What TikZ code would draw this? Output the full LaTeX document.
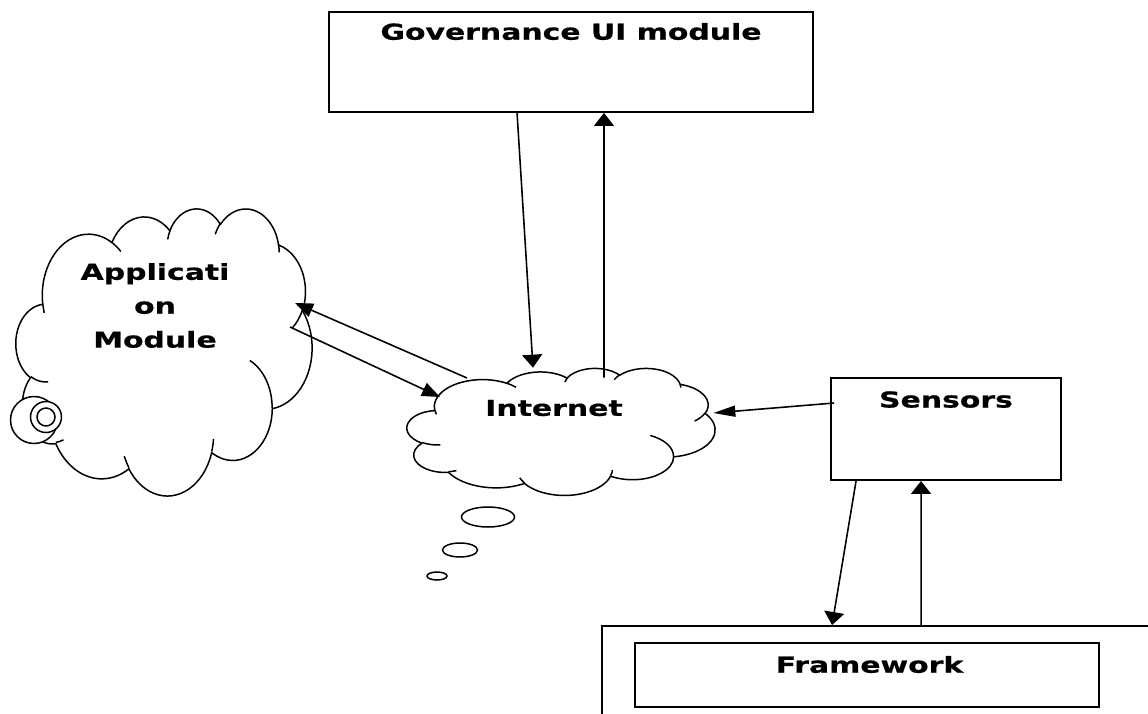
\documentclass[tikz,border=0pt]{standalone}
\usepackage{fontspec}
\newfontfamily\lblfont{DejaVu Sans Bold}[FakeStretch=1.36, FakeBold=0.6]
\usetikzlibrary{shapes.geometric,arrows.meta,calc}
% one elliptical arc in the manner of DrawingML arcTo (visual angles, y down)
\newcommand\ooarc[4]{arc[x radius={#1*0.02cm}, y radius={#2*0.02cm},
  start angle={atan2((#1)*sin(#3),(#2)*cos(#3))},
  delta angle={mod(atan2((#1)*sin((#3)+(#4)),(#2)*cos((#3)+(#4)))-atan2((#1)*sin(#3),(#2)*cos(#3))+720,360)}]}
% Word-like cloud outline: #1,#2 top-left (px), #3,#4 width and height (px), #5 style
\newcommand\wordcloud[5]{%
  \begin{scope}[shift={(#1,-#2)}, xscale=#3/432, yscale=-#4/432]
    \draw[#5] (39.00,143.70) \ooarc{67.53}{91.90}{-190.4875}{123.7805}
      \ooarc{53.33}{72.67}{-144.1024}{89.9452}
      \ooarc{43.65}{59.45}{-145.8079}{99.7230}
      \ooarc{48.57}{65.95}{-130.9861}{117.2417}
      \ooarc{53.33}{72.73}{-78.7089}{109.0269}
      \ooarc{67.75}{92.20}{-46.2673}{130.2690}
      \ooarc{57.85}{78.67}{0.6250}{114.0333}
      \ooarc{67.52}{92.15}{22.4516}{115.1726}
      \ooarc{77.20}{105.43}{66.2426}{75.7110}
      \ooarc{43.60}{59.18}{-274.9421}{146.7356}
      \ooarc{43.45}{59.45}{-246.8285}{152.5189} -- cycle;
    \draw[#5, fill=none] (46.93,261.77) \ooarc{43.45}{59.45}{86.7420}{26.4295};
    \draw[#5, fill=none] (69.28,348.99) \ooarc{43.60}{59.18}{73.6105}{11.4475};
    \draw[#5, fill=none] (164.78,390.90) \ooarc{67.52}{92.15}{137.6242}{14.0811};
    \draw[#5, fill=none] (288.27,347.51) \ooarc{67.52}{92.15}{6.4533}{15.9984};
    \draw[#5, fill=none] (341.29,229.54) \ooarc{57.85}{78.67}{-70.2924}{70.9174};
    \draw[#5, fill=none] (417.98,153.54) \ooarc{53.33}{72.73}{30.3180}{27.7515};
    \draw[#5, fill=none] (383.24,54.26) \ooarc{48.57}{65.95}{-13.7443}{14.8589};
    \draw[#5, fill=none] (290.78,39.52) \ooarc{48.57}{65.95}{-149.1815}{18.1954};
    \draw[#5, fill=none] (221.41,47.20) \ooarc{43.65}{59.45}{-163.4943}{17.6864};
    \draw[#5, fill=none] (140.00,51.92) \ooarc{67.53}{91.90}{-66.7070}{12.3194};
    \draw[#5, fill=none] (41.27,157.89) \ooarc{67.53}{91.90}{157.6544}{11.8582};
  \end{scope}}
\begin{document}
\begin{tikzpicture}[x=0.02cm,y=0.02cm,
  lbl/.style={font=\lblfont\fontsize{12.5}{19.3}\selectfont, text=black, inner sep=0pt},
  boxnode/.style={draw=black, line width=1.1pt, rectangle, fill=white, inner sep=0pt},
  cloudline/.style={draw=black, line width=0.85pt, fill=white, line join=round},
  area/.style={inner sep=0pt, rectangle},
  vtip/.style={-{Triangle[length=0.26cm,width=0.4cm]}},
  htip/.style={-{Triangle[length=0.44cm,width=0.22cm]}},
  stip/.style={-{Triangle[length=0.36cm,width=0.28cm]}},
  arr/.style={draw=black, line width=0.9pt},
  bubble/.style={draw=black, line width=0.85pt, fill=white, inner sep=0pt}]
\useasboundingbox (0,0) rectangle (1148,-713);
\clip (0,0) rectangle (1148,-713);
\fill[white] (0,0) rectangle (1148,-713);

% Governance box
\node[boxnode, minimum width=9.68cm, minimum height=2cm,
  label={[lbl, anchor=center, yshift=-0.41cm]north:Governance UI module}] (gov) at (571,-62) {};

% Application cloud with its callout circles
\wordcloud{16}{208}{296}{287}{cloudline}
\node[area, minimum width=5.92cm, minimum height=5.74cm,
  label={[lbl, align=center, anchor=center, xshift=-0.18cm, yshift=0.92cm]center:Applicati\\on\\Module}] (app) at (164,-351.5) {};
\node[bubble, circle, minimum size=0.94cm] (c1) at (34,-420) {};
\node[bubble, circle, minimum size=0.62cm] (c2) at (46,-417) {};
\node[bubble, circle, minimum size=0.36cm] (c3) at (46,-417) {};

% Internet cloud and its thought bubbles
\wordcloud{407}{368}{308}{127}{cloudline}
\node[area, minimum width=6.16cm, minimum height=2.54cm,
  label={[lbl, anchor=center, xshift=-0.14cm, yshift=0.47cm]center:Internet}] (inet) at (561,-431.5) {};
\node[bubble, ellipse, minimum width=1.06cm, minimum height=0.4cm] (b1) at (488,-517) {};
\node[bubble, ellipse, minimum width=0.7cm, minimum height=0.28cm] (b2) at (460,-550) {};
\node[bubble, ellipse, minimum width=0.4cm, minimum height=0.16cm] (b3) at (437,-576) {};

% Sensors box
\node[boxnode, minimum width=4.6cm, minimum height=2.04cm,
  label={[lbl, anchor=center, yshift=-0.45cm]north:Sensors}] (sens) at (946,-429) {};

% Framework outer and inner boxes
\node[boxnode, minimum width=11.36cm, minimum height=2.28cm] (fwo) at (886,-683) {};
\node[boxnode, minimum width=9.28cm, minimum height=1.28cm,
  label={[lbl, anchor=center, xshift=0.05cm, yshift=-0.45cm]north:Framework}] (fw) at (867,-675) {};

% Connectors
\draw[arr, vtip] ([xshift=3.78cm]gov.south west) -- ([xshift=-0.56cm]inet.north);
\draw[arr, vtip] ([xshift=0.86cm,yshift=-0.2cm]inet.north) -- ([xshift=0.66cm]gov.south);
\draw[arr, stip] ([shift={(-94,53.5)}]inet.center) -- ([shift={(131,48.5)}]app.center);
\draw[arr, stip] ([shift={(126,24.5)}]app.center) -- ([shift={(-121,34.5)}]inet.center);
\draw[arr, htip] ([shift={(4,26)}]sens.west) -- ([shift={(-2,18.5)}]inet.east);
\draw[arr, vtip] ([xshift=0.52cm]sens.south west) -- ([xshift=4.62cm]fwo.north west);
\draw[arr, vtip] ([xshift=6.4cm]fwo.north west) -- ([xshift=1.82cm]sens.south west);
\end{tikzpicture}
\end{document}
